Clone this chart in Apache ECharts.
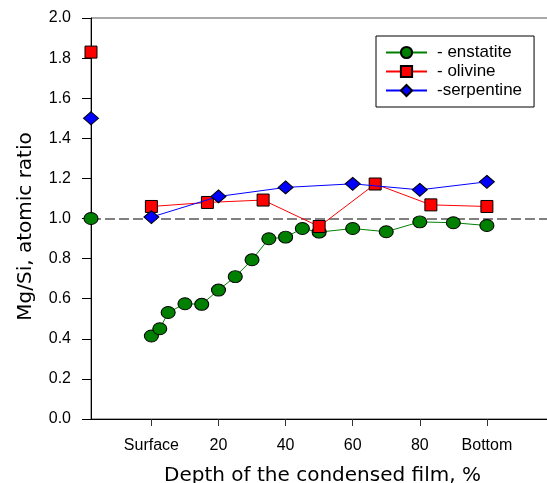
<!DOCTYPE html>
<html>
<head>
<meta charset="utf-8">
<script src="https://cdn.jsdelivr.net/npm/echarts@6/dist/echarts.min.js"></script>
<style>
html,body{margin:0;padding:0;background:#fff}
#c{width:547px;height:483px}
</style>
</head>
<body>
<div id="c"></div>
<script>
// Tick labels of the depth axis
const xTickValues = [0, 20, 40, 60, 80, 100];
const xTickLabels = ['Surface', '20', '40', '60', '80', 'Bottom'];

// Condensed film profiles (depth %, Mg/Si ratio)
const enstatiteDepth = [0, 2.5, 5, 10, 15, 20, 25, 30, 35, 40, 45, 50, 60, 70, 80, 90, 100];
const enstatiteRatio = [0.414, 0.45, 0.531, 0.575, 0.572, 0.643, 0.71, 0.794, 0.899, 0.907, 0.95, 0.932, 0.95, 0.934, 0.983, 0.979, 0.965];

const olivineDepth = [0, 16.7, 33.3, 50, 66.7, 83.3, 100];
const olivineRatio = [1.06, 1.08, 1.092, 0.96, 1.172, 1.068, 1.06];

const serpentineDepth = [0, 20, 40, 60, 80, 100];
const serpentineRatio = [1.007, 1.11, 1.155, 1.173, 1.143, 1.183];

// Initial (target) material ratios, shown on the left axis
const bulkEnstatite = 1.00;
const bulkOlivine = 1.83;
const bulkSerpentine = 1.50;

// Reference level
const referenceRatio = 1.0;

const legendNames = ['- enstatite', '- olivine', '-serpentine'];

const X_MIN = -18, X_MAX = 120;

function zip(xs, ys) { return xs.map((x, i) => [x, ys[i]]); }

const chart = echarts.init(document.getElementById('c'), null, {renderer: 'canvas'});

const tickFont = {color: '#000', fontSize: 16, fontFamily: 'Liberation Sans, Arial, sans-serif'};
const titleFont = {color: '#000', fontSize: 20, fontFamily: 'DejaVu Sans, sans-serif'};

chart.setOption({
  animation: false,
  grid: {
    left: 91, top: 18, right: -7, bottom: 64,
    containLabel: false,
    outerBoundsMode: 'none',
    show: true, borderColor: '#555', borderWidth: 1, backgroundColor: 'transparent'
  },
  legend: {
    data: legendNames,
    orient: 'vertical',
    left: 376, top: 36,
    itemWidth: 41, itemHeight: 14, itemGap: 2,
    padding: [8, 12, 8, 9],
    backgroundColor: '#fff',
    borderColor: '#000', borderWidth: 1, borderRadius: 0,
    textStyle: {color: '#000', fontSize: 17, fontFamily: 'Liberation Sans, Arial, sans-serif', padding: [0, 0, 0, 5]},
    selectedMode: false
  },
  xAxis: {
    type: 'value', min: X_MIN, max: X_MAX,
    name: 'Depth of the condensed film, %',
    nameLocation: 'middle', nameGap: 47,
    nameTextStyle: titleFont,
    axisLine: {show: true, onZero: false, lineStyle: {color: '#000', width: 1}},
    axisTick: {show: true, customValues: xTickValues, length: 7, lineStyle: {color: '#333'}},
    axisLabel: {
      show: true, customValues: xTickValues, margin: 19,
      formatter: v => { const i = xTickValues.indexOf(v); return i >= 0 ? xTickLabels[i] : ''; },
      ...tickFont
    },
    splitLine: {show: false}
  },
  yAxis: {
    type: 'value', min: 0, max: 2, interval: 0.2,
    name: 'Mg/Si, atomic ratio',
    nameLocation: 'middle', nameGap: 55,
    nameTextStyle: Object.assign({padding: [0, 16, 0, 0]}, titleFont),
    axisLine: {show: true, onZero: false, lineStyle: {color: '#000', width: 1}},
    axisTick: {show: true, length: 9, lineStyle: {color: '#000'}},
    axisLabel: {margin: 20, formatter: v => v.toFixed(1), ...tickFont},
    splitLine: {show: false}
  },
  series: [
    {
      name: legendNames[0], type: 'line',
      data: zip(enstatiteDepth, enstatiteRatio),
      symbol: 'circle', symbolSize: [14, 12],
      itemStyle: {color: '#008000', borderColor: '#000', borderWidth: 1},
      lineStyle: {color: '#008000', width: 1},
      z: 2,
      markLine: {
        silent: true, symbol: 'none', z: 1,
        label: {show: false},
        lineStyle: {color: '#808080', width: 2, type: [10, 4]},
        data: [{yAxis: referenceRatio}]
      }
    },
    {
      name: legendNames[1], type: 'line',
      data: zip(olivineDepth, olivineRatio),
      symbol: 'rect', symbolSize: 12,
      itemStyle: {color: '#ff0000', borderColor: '#000', borderWidth: 1},
      lineStyle: {color: '#ff0000', width: 1},
      z: 3
    },
    {
      name: legendNames[2], type: 'line',
      data: zip(serpentineDepth, serpentineRatio),
      symbol: 'diamond', symbolSize: [15, 13],
      itemStyle: {color: '#0000ff', borderColor: '#000', borderWidth: 1},
      lineStyle: {color: '#0000ff', width: 1},
      z: 4
    },
    {
      name: 'bulk enstatite', type: 'scatter', clip: false,
      data: [[X_MIN, bulkEnstatite]],
      symbol: 'circle', symbolSize: [14, 12],
      itemStyle: {color: '#008000', borderColor: '#000', borderWidth: 1, opacity: 1}, z: 4
    },
    {
      name: 'bulk olivine', type: 'scatter', clip: false,
      data: [[X_MIN, bulkOlivine]],
      symbol: 'rect', symbolSize: 12,
      itemStyle: {color: '#ff0000', borderColor: '#000', borderWidth: 1, opacity: 1}, z: 4
    },
    {
      name: 'bulk serpentine', type: 'scatter', clip: false,
      data: [[X_MIN, bulkSerpentine]],
      symbol: 'diamond', symbolSize: [15, 13],
      itemStyle: {color: '#0000ff', borderColor: '#000', borderWidth: 1, opacity: 1}, z: 4
    }
  ]
});
</script>
</body>
</html>
